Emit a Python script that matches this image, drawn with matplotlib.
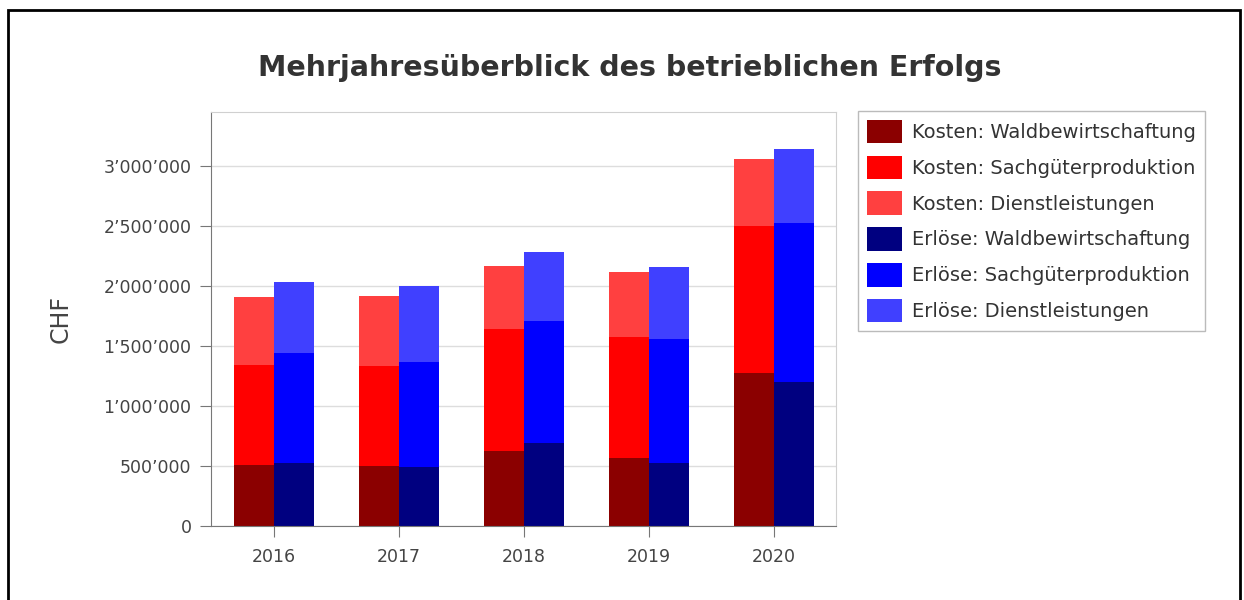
import numpy as np
import matplotlib
matplotlib.use("Agg")
import matplotlib.pyplot as plt
from matplotlib.patches import Rectangle
from matplotlib.ticker import FuncFormatter

years = ["2016", "2017", "2018", "2019", "2020"]

kosten_wald = [510000, 500000, 625000, 567000, 1275000]
kosten_sach = [832000, 833000, 1017000, 1008000, 1225000]
kosten_dienst = [566000, 584000, 525000, 542000, 558000]

erloese_wald = [525000, 490000, 690000, 525000, 1200000]
erloese_sach = [917000, 877000, 1018000, 1033000, 1325000]
erloese_dienst = [591000, 633000, 575000, 600000, 617000]

labels_kosten = ["Kosten: Waldbewirtschaftung", "Kosten: Sachgüterproduktion", "Kosten: Dienstleistungen"]
labels_erloese = ["Erlöse: Waldbewirtschaftung", "Erlöse: Sachgüterproduktion", "Erlöse: Dienstleistungen"]
colors_kosten = ["#8b0000", "#ff0000", "#ff4040"]
colors_erloese = ["#000080", "#0000ff", "#4040ff"]


def fmt_chf(v, pos):
    return f"{int(v):,}".replace(",", "\u2019")


fig = plt.figure(figsize=(12.44, 6.0), dpi=100)
fig.patches.append(Rectangle((8 / 1244, -0.05), (1240 - 8) / 1244, 1.05 - 10 / 600,
                             transform=fig.transFigure, fill=False,
                             edgecolor="black", linewidth=2))

ax = fig.add_axes([211 / 1244, 74 / 600, 625 / 1244, 414 / 600])
x = np.arange(len(years))
w = 0.32

bottom = np.zeros(len(years))
for vals, col, lab in zip([kosten_wald, kosten_sach, kosten_dienst], colors_kosten, labels_kosten):
    ax.bar(x - w / 2, vals, w, bottom=bottom, color=col, label=lab, linewidth=0)
    bottom += np.array(vals)

bottom = np.zeros(len(years))
for vals, col, lab in zip([erloese_wald, erloese_sach, erloese_dienst], colors_erloese, labels_erloese):
    ax.bar(x + w / 2, vals, w, bottom=bottom, color=col, label=lab, linewidth=0)
    bottom += np.array(vals)

ax.set_xlim(-0.5, len(years) - 0.5)
ax.set_ylim(0, 3450000)
ax.set_yticks(np.arange(0, 3000001, 500000))
ax.yaxis.set_major_formatter(FuncFormatter(fmt_chf))
ax.set_xticks(x)
ax.set_xticklabels(years)
ax.grid(axis="y", color="#dddddd", linewidth=1)
ax.set_axisbelow(True)

for side in ["top", "right"]:
    ax.spines[side].set_color("#d0d0d0")
for side in ["left", "bottom"]:
    ax.spines[side].set_color("#777777")
ax.tick_params(axis="both", colors="#777777", labelcolor="#444444", labelsize=12.5, length=8)
ax.tick_params(axis="y", pad=6)
ax.tick_params(axis="x", pad=8)

ax.set_ylabel("CHF", fontsize=17, color="#444444", labelpad=22)
fig.text(630 / 1244, 1 - 68 / 600, "Mehrjahresüberblick des betrieblichen Erfolgs",
         ha="center", va="center", fontsize=20.5, fontweight="bold", color="#333333")

leg = ax.legend(loc="upper left", bbox_to_anchor=(858 / 1244, 1 - 111 / 600),
                bbox_transform=fig.transFigure, borderaxespad=0, fontsize=14,
                frameon=True, fancybox=False, handlelength=1.8, handleheight=1.5,
                labelspacing=0.62, borderpad=0.45, handletextpad=0.55, labelcolor="#333333")
leg.get_frame().set_edgecolor("#aaaaaa")
leg.get_frame().set_linewidth(1)

fig.savefig("out.png", dpi=100)
